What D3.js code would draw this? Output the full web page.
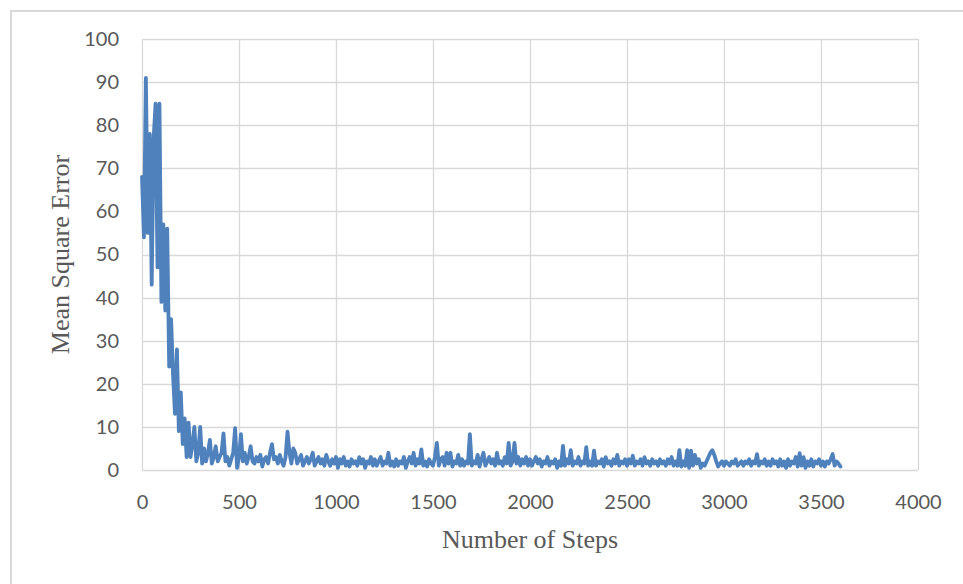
<!DOCTYPE html>
<html>
<head>
<meta charset="utf-8">
<script src="https://cdn.jsdelivr.net/npm/d3@7"></script>
<style>
  body { margin: 0; background: #fff; }
  svg { display: block; }
</style>
</head>
<body>
<svg width="963" height="584"></svg>
<script>
var stepSize = 10;
var mse = [
  68, 54, 91, 55, 78, 43, 77, 85, 47, 85,
  39, 57, 37, 56, 24, 35, 22, 13, 28, 9,
  18, 6, 12, 3, 11, 3, 6, 10, 2, 4,
  10, 1.5, 5, 2, 4, 7, 1.5, 3, 5.5, 2,
  3, 4, 8.5, 2, 3, 1, 2.5, 4, 9.7, 0.5,
  3, 8.3, 2, 4, 1.5, 3, 5.5, 2, 1.5, 3,
  2, 3.5, 0.8, 2.5, 3, 1.5, 4, 6, 2.5, 3,
  1.5, 3.5, 2, 1, 3, 8.9, 4, 1.5, 5, 4,
  1.5, 2.5, 3.5, 1, 2, 3, 1.5, 2.5, 4, 1,
  2, 3, 1.5, 2.5, 1, 3.5, 2, 1, 2.5, 1.5,
  3, 0.5, 2.5, 1.5, 3, 1, 2, 0.8, 2.5, 1.5,
  2, 1, 3, 1.5, 2.5, 0.5, 2, 1.5, 3, 1,
  2.5, 1, 2, 3, 1, 2, 1.5, 4, 1, 2,
  0.8, 2.5, 1, 2, 1.5, 3, 0.5, 2, 3, 1.5,
  4, 1, 2.5, 1.5, 4.8, 1, 2, 0.8, 2.5, 1.5,
  1, 3, 6.3, 1, 2.5, 3, 1, 4, 1.5, 4,
  0.8, 2, 1.5, 3.5, 1, 2.5, 1, 2, 1.5, 8.3,
  1, 2, 1.5, 3.5, 0.8, 2.5, 4, 1, 2, 3,
  1.5, 2.5, 1, 4, 1.5, 2, 1, 3, 1.5, 6.3,
  1, 2, 6.3, 1.5, 3, 1, 2.5, 1.5, 3, 1,
  2.5, 1, 2, 3, 1.5, 2.5, 0.8, 2, 1.5, 3,
  1, 2, 1.5, 2.5, 0.5, 2, 1, 5.6, 1, 2.5,
  1.5, 4.6, 1, 2, 1.5, 3, 1, 2, 1.5, 5.3,
  1, 2, 1, 4.5, 1, 2, 1.5, 2.5, 0.8, 3,
  1.5, 2, 1, 2.5, 1.5, 3.5, 1, 2, 1.5, 2.5,
  1, 2.5, 1.5, 3.3, 1, 2, 1.5, 2.5, 1, 3,
  1.5, 2, 1, 2.5, 1.5, 2, 1, 2.5, 1.5, 2,
  1, 2.5, 1.5, 3, 1, 2, 1, 4.6, 0.8, 2,
  1, 4.6, 0.5, 4.5, 1, 3.5, 1.5, 2.5, 0.5, 1.5,
  1, 2, 3, 4, 4.6, 3.5, 2, 0.8, 1.5, 2,
  1, 2, 1.5, 1, 2, 1.5, 2.5, 1, 1.5, 2,
  1, 2, 1.5, 2.5, 1, 2, 1.5, 3.7, 1, 2,
  1.5, 2.5, 1, 2, 1, 2.5, 1.5, 2, 0.8, 2.5,
  1, 2, 0.5, 2.5, 1, 2, 1.5, 3, 0.8, 3.9,
  1, 3, 0.5, 2, 1, 2.5, 0.8, 2, 1.5, 2.5,
  1, 2, 0.8, 2, 1.5, 2.5, 3.7, 1, 2, 1.5,
  0.8
];
var xTicks = [0, 500, 1000, 1500, 2000, 2500, 3000, 3500, 4000];
var yTicks = [0, 10, 20, 30, 40, 50, 60, 70, 80, 90, 100];
var xTitle = "Number of Steps";
var yTitle = "Mean Square Error";

var svg = d3.select('svg');
var plotL = 142, plotR = 918, plotT = 39, plotB = 470;

var x = d3.scaleLinear().domain([0, 4000]).range([plotL, plotR]);
var y = d3.scaleLinear().domain([0, 100]).range([plotB, plotT]);

// outer chart frame (cut off on the right and bottom)
svg.append('rect')
  .attr('x', 11).attr('y', 11)
  .attr('width', 1000).attr('height', 1000)
  .attr('fill', 'none')
  .attr('stroke', '#d9d9d9')
  .attr('stroke-width', 2);

// gridlines
svg.append('g')
  .selectAll('line')
  .data(yTicks)
  .enter()
  .append('line')
  .attr('x1', plotL).attr('x2', plotR)
  .attr('y1', function(d) { return Math.round(y(d)) + 0.5; })
  .attr('y2', function(d) { return Math.round(y(d)) + 0.5; })
  .style('stroke', '#d9d9d9')
  .style('stroke-width', '1.3px');

svg.append('g')
  .selectAll('line')
  .data(xTicks)
  .enter()
  .append('line')
  .attr('y1', plotT).attr('y2', plotB)
  .attr('x1', function(d) { return Math.round(x(d)) + 0.5; })
  .attr('x2', function(d) { return Math.round(x(d)) + 0.5; })
  .style('stroke', '#d9d9d9')
  .style('stroke-width', '1.3px');

// axes, just the labels
var xAxis = svg.append('g')
  .attr('transform', 'translate(0,' + plotB + ')')
  .call(d3.axisBottom(x).tickValues(xTicks).tickSize(0).tickPadding(25).tickFormat(d3.format('d')));
var yAxis = svg.append('g')
  .attr('transform', 'translate(' + plotL + ',0)')
  .call(d3.axisLeft(y).tickValues(yTicks).tickSize(0).tickPadding(23).tickFormat(d3.format('d')));

[xAxis, yAxis].forEach(function(g) {
  g.select('.domain').remove();
  g.selectAll('text')
    .style('font-family', 'Lato, "Open Sans", sans-serif')
    .style('font-size', '20px')
    .style('fill', '#595959');
});

// the series
var line = d3.line()
  .x(function(d, i) { return x(i * stepSize); })
  .y(function(d) { return y(d); });

svg.append('path')
  .datum(mse)
  .attr('d', line)
  .attr('fill', 'none')
  .attr('stroke', '#4f81bd')
  .attr('stroke-width', 3.8)
  .attr('stroke-linejoin', 'round')
  .attr('stroke-linecap', 'round');

// titles
svg.append('text')
  .attr('x', 530)
  .attr('y', 548)
  .attr('text-anchor', 'middle')
  .style('font-family', '"Liberation Serif", "Times New Roman", serif')
  .style('font-size', '26px')
  .style('fill', '#595959')
  .text(xTitle);

svg.append('text')
  .attr('transform', 'translate(69,' + ((plotT + plotB) / 2) + ') rotate(-90)')
  .attr('text-anchor', 'middle')
  .style('font-family', '"Liberation Serif", "Times New Roman", serif')
  .style('font-size', '26px')
  .style('fill', '#595959')
  .text(yTitle);
</script>
</body>
</html>
